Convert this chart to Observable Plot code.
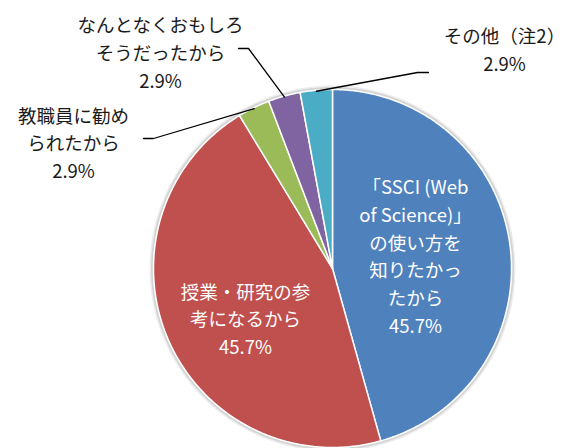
<!DOCTYPE html>
<html><head><meta charset="utf-8">
<script src="https://cdn.jsdelivr.net/npm/d3@7"></script>
<script src="https://cdn.jsdelivr.net/npm/@observablehq/plot@0.6"></script>
<style>body{margin:0;background:#fff}</style>
</head><body><div id="chart"></div>
<script>
// ---- data ----
const categories = [
  "「SSCI (Web of Science)」の使い方を知りたかったから",
  "授業・研究の参考になるから",
  "教職員に勧められたから",
  "なんとなくおもしろそうだったから",
  "その他（注2）"
];
const values = [45.7, 45.7, 2.9, 2.9, 2.9];
const percentLabels = ["45.7%", "45.7%", "2.9%", "2.9%", "2.9%"];
const labelLines = [
  ["「SSCI (Web", "of Science)」", "の使い方を", "知りたかっ", "たから"],
  ["授業・研究の参", "考になるから"],
  ["教職員に勧め", "られたから"],
  ["なんとなくおもしろ", "そうだったから"],
  ["その他（注2）"]
];
const colors = ["#4F81BD", "#C0504D", "#9BBB59", "#8064A2", "#4BACC6"];

// ---- layout ----
const W = 567, H = 448, cx = 332, cy = 268, R = 179;
const labelPos = [
  {x: 415, y: 254, inside: true},
  {x: 245, y: 317, inside: true},
  {x: 73, y: 141, inside: false, knee: [153, 138], end: [143, 138]},
  {x: 160, y: 50.5, inside: false, knee: [248, 48], end: [238, 48]},
  {x: 504, y: 47.5, inside: false, knee: [417, 72], end: [428, 72]}
];

const arcs = d3.pie().sort(null).value(d => d.value)(values.map((v, i) => ({value: v, i})));
const pt = (t, r = R) => ({x: cx + r * Math.sin(t), y: cy - r * Math.cos(t)});

const slicePts = [];
arcs.forEach(a => {
  const i = a.data.i;
  const n = Math.max(2, Math.ceil((a.endAngle - a.startAngle) / 0.01));
  slicePts.push({i, x: cx, y: cy});
  for (let k = 0; k <= n; k++) {
    const p = pt(a.startAngle + (a.endAngle - a.startAngle) * k / n);
    slicePts.push({i, ...p});
  }
  slicePts.push({i, x: cx, y: cy});
});

const ring = d3.range(0, 361).map(d => pt(d * Math.PI / 180, R + 1));

const leaderPts = [];
arcs.forEach(a => {
  const i = a.data.i, L = labelPos[i];
  if (L.inside) return;
  const mid = pt((a.startAngle + a.endAngle) / 2, R - 1);
  leaderPts.push({i, x: L.end[0], y: L.end[1]}, {i, x: L.knee[0], y: L.knee[1]}, {i, ...mid});
});

const labels = categories.map((c, i) => ({
  text: labelLines[i].join("\n") + "\n" + percentLabels[i],
  x: labelPos[i].x, y: labelPos[i].y, inside: labelPos[i].inside
}));

const chart = Plot.plot({
  width: W, height: H, margin: 0,
  x: {domain: [0, W], range: [0, W], axis: null},
  y: {domain: [0, H], range: [0, H], axis: null},
  color: {type: "identity"},
  style: {fontFamily: "'Noto Sans CJK JP', 'Noto Sans', sans-serif", background: "#fff"},
  marks: [
    Plot.line(ring, {x: "x", y: "y", stroke: "#000", strokeOpacity: 0.07, strokeWidth: 6}),
    Plot.line(ring, {x: "x", y: "y", stroke: "#000", strokeOpacity: 0.1, strokeWidth: 3}),
    Plot.line(slicePts, {x: "x", y: "y", z: "i", fill: d => colors[d.i], stroke: "#fff", strokeWidth: 1.5, strokeLinejoin: "round"}),
    Plot.line(leaderPts, {x: "x", y: "y", z: "i", stroke: "#000", strokeWidth: 1.3}),
    Plot.text(labels, {
      x: "x", y: "y", text: "text", lineAnchor: "middle", textAnchor: "middle",
      lineHeight: 1.5, fontSize: 18.5, fontWeight: 400,
      fill: d => d.inside ? "#fff" : "#1a1a1a"
    })
  ]
});
document.getElementById("chart").appendChild(chart);
</script>
</body></html>
